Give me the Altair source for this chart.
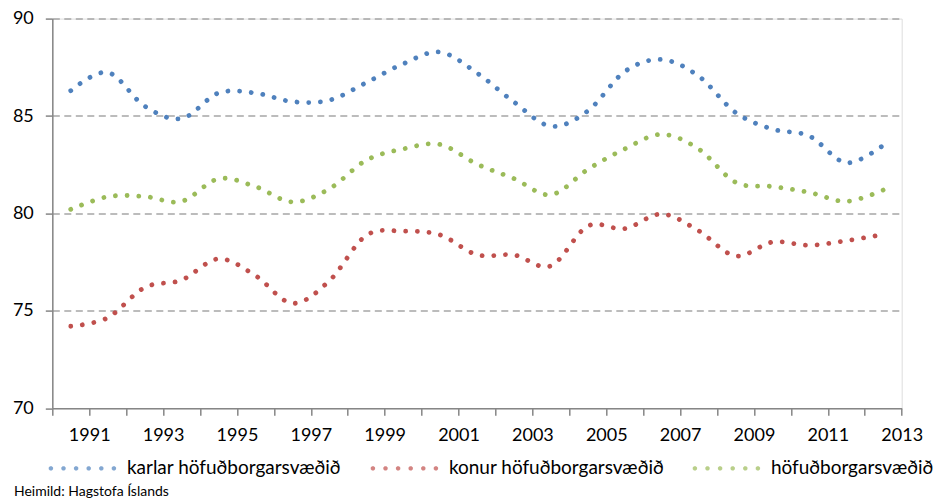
import math
import altair as alt
import pandas as pd

years = list(range(1990, 2013))
karlar = [86.30, 87.24, 85.51, 84.87, 86.18, 86.18, 85.74, 85.81, 86.71, 87.68, 88.28, 87.21,
          85.72, 84.48, 85.26, 87.28, 87.90, 87.05, 85.18, 84.33, 83.97, 82.60, 83.50]
konur = [74.21, 74.65, 76.20, 76.58, 77.67, 76.81, 75.39, 76.54, 78.87, 79.09, 78.90, 77.88,
         77.87, 77.31, 79.35, 79.22, 79.97, 79.11, 77.82, 78.53, 78.37, 78.60, 78.92]
alls = [80.21, 80.86, 80.87, 80.62, 81.78, 81.38, 80.59, 81.26, 82.73, 83.31, 83.54, 82.53,
        81.79, 80.96, 82.26, 83.31, 84.06, 83.31, 81.60, 81.38, 81.08, 80.62, 81.20]

series_names = ["karlar höfuðborgarsvæðið", "konur höfuðborgarsvæðið", "höfuðborgarsvæðið"]
series_colors = ["#4F81BD", "#C0504D", "#9BBB59"]
x_ticks = list(range(1990, 2014))
y_ticks = [70, 75, 80, 85, 90]
source_text = "Heimild: Hagstofa Íslands"

rows = []
for name, vals in zip(series_names, [karlar, konur, alls]):
    for yr, v in zip(years, vals):
        rows.append({"ar": yr, "gildi": v, "flokkur": name})
df = pd.DataFrame(rows)

FONT = "Lato"

# legend symbol: six filled dots in a row (unit coordinates, scaled by sqrt(size)/2)
dot_r = 0.075
centers = [-1, -0.6, -0.2, 0.2, 0.6, 1]
parts = []
for c in centers:
    pts = [(c + dot_r * math.cos(math.radians(22.5 + 45 * k)),
            dot_r * math.sin(math.radians(22.5 + 45 * k))) for k in range(8)]
    parts.append("M" + "L".join(f"{px:.4f},{py:.4f}" for px, py in pts) + "Z")
dots_path = "".join(parts)

W = 849.4
H = 389.7

x_enc = alt.X("xpos:Q", scale=alt.Scale(domain=[1990, 2013], nice=False, zero=False),
              axis=alt.Axis(values=x_ticks, title=None, grid=False,
                            labelExpr="datum.value % 2 == 1 ? datum.value : ''",
                            labelFont=FONT, labelFontSize=18, labelColor="#000000",
                            labelPadding=11.5, tickSize=7, tickWidth=1.5, tickColor="#868686",
                            domainColor="#868686", domainWidth=1.5,
                            labelOverlap=False, labelFlush=False, format="d"))
y_enc = alt.Y("gildi:Q", scale=alt.Scale(domain=[70, 90], nice=False, zero=False),
              axis=alt.Axis(values=y_ticks, title=None, grid=True,
                            gridDash=[7, 4.5], gridColor="#A6A6A6", gridWidth=1.5,
                            gridOpacity={"condition": {"test": "datum.value === 70", "value": 0}, "value": 1},
                            labelFont=FONT, labelFontSize=18, labelColor="#000000",
                            labelPadding=12, tickSize=7, tickWidth=1.5, tickColor="#868686",
                            domainColor="#868686", domainWidth=1.5, format="d"))
legend = alt.Legend(
    title=None, orient="none", legendX=-1.4, legendY=418,
    direction="horizontal", columns=3, gridAlign="all",
    symbolType=dots_path, symbolSize=3969, symbolStrokeWidth=0,
    labelFont=FONT, labelFontSize=19, labelColor="#000000",
    labelOffset=13, columnPadding=27, labelLimit=400, padding=0)
c_enc = alt.Color("flokkur:N",
                  scale=alt.Scale(domain=series_names, range=series_colors),
                  sort=series_names, legend=legend)

base = alt.Chart(df).transform_calculate(xpos="datum.ar + 0.5")

lines = base.mark_line(
    interpolate="cardinal", tension=0, strokeWidth=4.8,
    strokeDash=[0.01, 11.7], strokeCap="round"
).encode(x=x_enc, y=y_enc, color=c_enc)

# invisible filled points: they only make the legend symbols filled dots
pts = base.mark_point(filled=True, size=0).encode(x=x_enc, y=y_enc, color=c_enc)

source = alt.Chart(pd.DataFrame({"t": [source_text]})).mark_text(
    align="left", baseline="middle", font=FONT, fontSize=14, color="#000000"
).encode(
    x=alt.value(-38.3), y=alt.value(473.1), text="t:N"
)

chart = alt.layer(lines, pts, source).properties(
    width=W, height=H,
    autosize=alt.AutoSizeParams(type="none"),
    padding={"left": 44.3, "top": 10.6, "right": 37.3, "bottom": 92},
).configure_view(stroke=None).configure(background="white")

chart.save("out.html", embed_options={"renderer": "svg", "actions": False})
